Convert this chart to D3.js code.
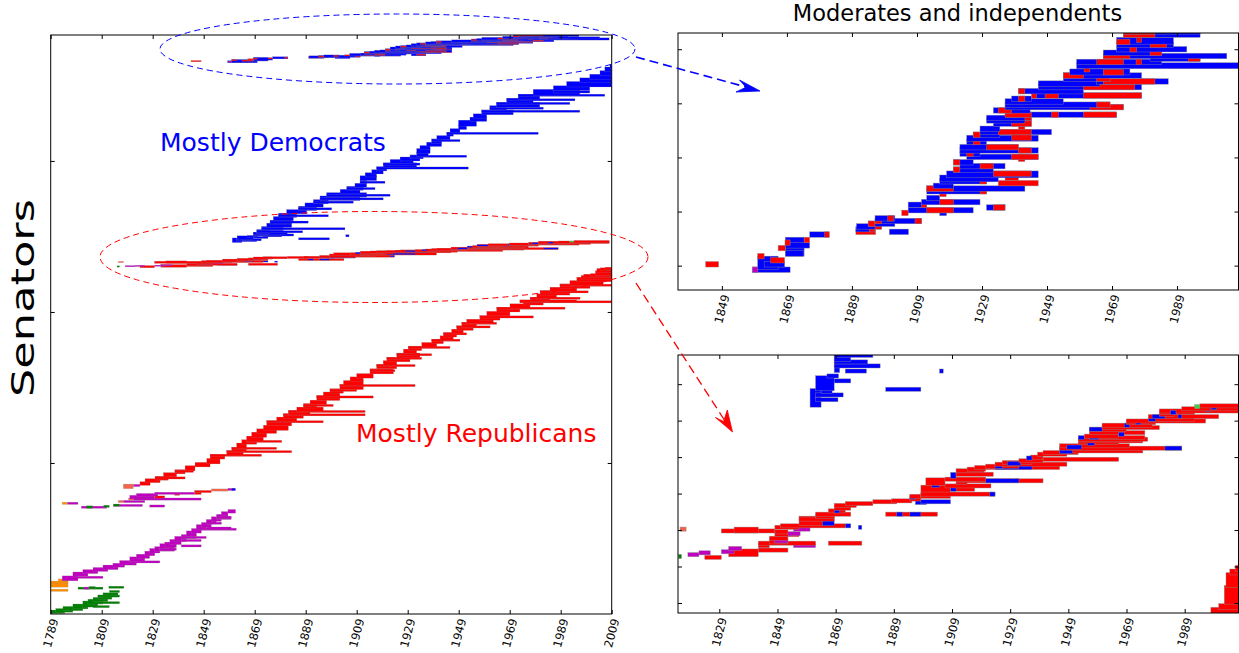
<!DOCTYPE html>
<html><head><meta charset="utf-8">
<script src="https://cdn.jsdelivr.net/npm/d3@7"></script>
<style>
body{margin:0;background:#fff}
svg{display:block}
text{font-family:"DejaVu Sans",sans-serif}
</style>
</head><body>
<svg id="c" width="1239" height="653"></svg>
<script>
// ---------- tick values ----------
const ticksMain = [1789,1809,1829,1849,1869,1889,1909,1929,1949,1969,1989,2009];
const ticksTop = [1849,1869,1889,1909,1929,1949,1969,1989];
const ticksBottom = [1829,1849,1869,1889,1909,1929,1949,1969,1989];
const rowTicksMain = [500,1000,1500];
const rowTicksTop = [1830,1850,1870,1890,1910];
const rowTicksBottom = [1125,1145,1165,1185,1205,1225,1245];

// ---------- senators: [row, rows, firstYear, lastYear, party] ----------
const earlyParties = [
 [5,5,1789.2,1794.5,"F"],[9,6,1791,1797.7,"F"],[14,8,1793.8,1801.6,"F"],[20,10,1797.7,1803.6,"F"],
 [26,14,1801.6,1807.5,"F"],[36,10,1803.6,1809.5,"F"],[44,8,1805.6,1811.4,"F"],[52,5,1807.5,1813,"F"],
 [24,1,1805.6,1812,"F"],[37,1,1807.5,1816,"F"],[59,1,1807.5,1816,"F"],[66,1,1809.5,1815.4,"F"],
 [74,1,1812,1816,"F"],[88,1,1811.8,1817.7,"F"],[85,1,1799.7,1809.5,"F"],[85,1,1802,1804,"M"],[86,2,1804,1806.5,"F"],
 [78,1,1789,1795.8,"O"],[92,8,1789,1795.8,"O"],[104,2,1789,1795.8,"O"],[110,3,1792,1795.8,"O"],
 [113,10,1793.5,1799.7,"M"],[121,1,1799.7,1809.5,"M"],[128,8,1797.7,1803.6,"M"],[137,7,1801.6,1807.5,"M"],
 [144,7,1805.6,1811.4,"M"],[150,9,1809.5,1815.4,"M"],[158,7,1813.4,1818,"M"],[165,9,1816,1822.6,"M"],
 [172,1,1820,1831.8,"M"],[177,9,1820,1825.9,"M"],[187,8,1822.6,1827.8,"M"],[196,9,1825.9,1829.8,"M"],
 [205,9,1827.8,1831.8,"M"],[211,9,1829.8,1837.6,"M"],[214,1,1831.8,1838.3,"M"],[219,11,1831.8,1835.7,"M"],
 [223,12,1833.7,1838.3,"M"],[225,1,1840.2,1848,"M"],[233,11,1835.7,1840.2,"M"],[243,11,1837.6,1842.2,"M"],
 [243,1,1840.2,1848,"M"],[253,7,1840.2,1846.1,"M"],[253,1,1840.2,1850,"M"],[261,11,1842.2,1846.1,"M"],
 [271,9,1844.2,1848.1,"M"],[282,11,1846.1,1850,"M"],[284,1,1850,1859.8,"M"],[280,1,1848,1861.8,"M"],
 [291,9,1848.1,1852,"M"],[301,9,1850,1854,"M"],[300,1,1850,1856,"M"],[310,9,1852,1855.9,"M"],
 [318,9,1854,1858.5,"M"],[316,1,1854,1859.8,"M"],[320,1,1855,1859.8,"M"],[329,7,1855.9,1858.5,"M"],
 [337,6,1858.5,1861.5,"M"],
 [366,1,1793.5,1795.6,"O"],[366,1,1795.6,1799.7,"M"],[353,1,1801,1811,"M"],[353,2,1803,1805.5,"F"],
 [356,1,1809.8,1812,"F"],[359,1,1813.6,1825,"M"],[360,1,1813.6,1816,"F"],[357,1,1827.8,1833.7,"M"],
 [372,1,1815.5,1817.6,"T"],[372,1,1817.6,1825.9,"M"],[380,1,1819.5,1821.5,"T"],[380,1,1821.5,1848,"M"],
 [384,6,1820,1829.8,"M"],[387,1,1829.8,1833.7,"R"],[393,3,1822.6,1831,"M"],[399,1,1829.8,1845.4,"M"],
 [399,1,1845.4,1848,"R"],[396,1,1837.6,1839.6,"R"],[405,1,1845.4,1852,"R"],[410,1,1852,1858.5,"T"],
 [412,1,1858.5,1861,"M"],[412,1,1860,1861.5,"D"],[425,1,1821.5,1824,"M"]
];

const republicans = [
 [418,9,1817.5,1821.4,"T"],[429,6,1824,1828,"R"],[438,7,1826,1831.9,"R"],[446,7,1829.9,1835.1,"R"],
 [450,1,1829.9,1841.7,"R"],[457,8,1833.2,1838.4,"R"],[467,8,1837.7,1841.7,"R"],[472,1,1837.7,1845,"R"],
 [477,11,1841.7,1845.6,"R"],[490,9,1845.6,1851.5,"R"],[500,12,1850.2,1855.4,"R"],[516,9,1851.5,1857.3,"R"],
 [525,1,1851.5,1871.7,"R"],[529,9,1858,1864.5,"R"],[537,1,1858,1883.5,"R"],[540,9,1860,1865.8,"R"],
 [548,1,1860,1877.6,"R"],[552,11,1861.9,1865.8,"R"],[565,9,1863.9,1869.8,"R"],[571,1,1865.8,1879.6,"R"],
 [575,11,1865.8,1872.4,"R"],[588,11,1867.8,1873.7,"R"],[601,9,1869.8,1877.6,"R"],[611,11,1872.4,1882.2,"R"],
 [626,11,1873.7,1883.5,"R"],[636,1,1873.7,1895.9,"R"],[640,9,1877.6,1885.5,"R"],[651,9,1880.2,1888.1,"R"],
 [659,1,1880.2,1912.3,"R"],[662,9,1882.2,1890.7,"R"],[670,1,1882.2,1912.3,"R"],[673,9,1885.5,1895.9,"R"],
 [685,9,1888.1,1893.3,"R"],[690,1,1888.1,1899.8,"R"],[696,9,1890.7,1897.2,"R"],[710,11,1893.3,1902.4,"R"],
 [718,1,1893.3,1915.5,"R"],[723,9,1895.9,1902.4,"R"],[734,9,1898.5,1903.8,"R"],[740,1,1898.5,1909,"R"],
 [746,11,1902.4,1911.6,"R"],[756,1,1902.4,1931.9,"R"],[761,9,1903.8,1911.6,"R"],[773,9,1906.4,1911.6,"R"],
 [784,9,1909,1915.5,"R"],[798,11,1914.2,1923.4,"R"],[805,1,1914.2,1924,"R"],[815,9,1916.8,1924.7,"R"],
 [822,1,1916.8,1931.9,"R"],[827,9,1919.4,1924.7,"R"],[838,9,1920.8,1929.9,"R"],[846,1,1920.8,1934.5,"R"],
 [851,10,1924.7,1933.8,"R"],[858,1,1924.7,1938.4,"R"],[865,9,1927.3,1932.5,"R"],[875,9,1929.2,1934.5,"R"],
 [882,1,1929.2,1945.6,"R"],[887,9,1934.5,1940.4,"R"],[898,9,1938.4,1943,"R"],[906,1,1938.4,1949.5,"R"],
 [909,9,1941.7,1946.9,"R"],[920,9,1943,1948.2,"R"],[927,1,1943,1952.1,"R"],[931,9,1946.2,1950.8,"R"],
 [942,9,1948.2,1954.7,"R"],[950,1,1948.2,1961.3,"R"],[953,9,1950.2,1956,"R"],[962,1,1950.2,1963.9,"R"],
 [964,9,1952.1,1962.6,"R"],[976,9,1957.3,1965.2,"R"],[983,1,1957.3,1978.3,"R"],[990,9,1960,1969.1,"R"],
 [1003,9,1963.9,1973,"R"],[1012,1,1963.9,1990.7,"R"],[1015,9,1969.1,1977,"R"],[1026,9,1974.3,1982.2,"R"],
 [1033,1,1973,2009,"R"],[1036,1,1973,1995.3,"R"],[1037,9,1977,1984.8,"R"],[1045,1,1977,1996.6,"R"],
 [1048,9,1979.6,1987.4,"R"],[1059,9,1980.9,1992.6,"R"],[1066,1,1980.9,1999.8,"R"],[1070,9,1984.8,1995.3,"R"],
 [1081,9,1988.7,2000.5,"R"],[1088,1,1988.7,2009,"R"],[1092,9,1992.6,2005.7,"R"],[1103,9,1995.3,2009,"R"],
 [1112,6,1997,2009,"R"],[1118,4,1998,2009,"R"],[1122,2,2000.7,2009,"R"],[1125,9,2002.6,2009,"R"],
 [1134,7,2003.2,2009,"R"],[1141,2,2004.5,2009,"R"],[1143,2,2006.4,2009,"R"]
];

const moderatesRight = [
 [1149.5,1,1824,1829.7,"R"],[1151,3,1832.2,1842.4,"R"],[1153.5,1,1842.4,1852.6,"R"],[1155.9,1,1842.4,1846.2,"R"],
 [1157.3,1,1842.4,1862.1,"R"],[1157.3,1,1866.5,1878,"R"],[1158,1,1846.2,1852.6,"R"],[1160,1,1846.2,1852.6,"R"],
 [1162,1,1848.1,1856.4,"R"],[1163.5,1,1848.1,1852.6,"R"],[1164,1,1829.7,1848.1,"R"],[1164,2,1834.1,1842.4,"R"],
 [1166,1,1848.1,1856.4,"R"],[1166.8,1,1850,1872.3,"R"],[1168,4,1856.4,1866.5,"R"],[1170.5,1,1856.4,1868.5,"R"],
 [1172,1,1862.1,1868.5,"R"],[1173.2,1,1862.1,1874.2,"R"],[1173.2,1,1886.2,1904,"R"],[1175,1,1866.5,1872.3,"R"],
 [1176.5,1,1868.5,1874.2,"R"],[1178,1,1868.5,1876.1,"R"],[1179,1,1872.3,1881.8,"R"],[1180,1,1881.8,1890,"R"],
 [1180.5,1,1888.2,1895.2,"R"],[1181.5,1,1894.5,1898.3,"R"],[1183,1,1894.5,1898.3,"R"],[1183,6,1898.3,1908.5,"R"],
 [1184.2,1,1898.3,1923.8,"R"],[1186.9,1,1908.5,1916.8,"R"],[1188.7,1,1906.6,1922.4,"R"],[1190,3,1900,1906.6,"R"],
 [1190.6,1,1910.4,1914.2,"R"],[1191.5,1,1910.4,1940.3,"R"],[1192.4,1,1906.6,1920.6,"R"],[1195.1,1,1910.4,1923.2,"R"],
 [1197,1,1910.4,1920,"R"],[1197.9,1,1914.2,1920.6,"R"],[1198.8,1,1916.8,1946,"R"],[1199.5,1,1920.6,1932,"R"],
 [1200.6,1,1923.8,1948.5,"R"],[1201.5,1,1926.3,1936.5,"R"],[1202.5,1,1932,1940.3,"R"],[1203.3,1,1940.3,1966.3,"R"],
 [1204.5,1,1936,1940.3,"R"],[1206.1,1,1938.4,1948.5,"R"],[1207,1,1940.3,1952.4,"R"],[1207.9,1,1946,1974.6,"R"],
 [1209.4,1,1946,1988,"R"],[1210.7,1,1946,1970,"R"],[1212.5,1,1952.4,1966.3,"R"],[1213.4,1,1952.4,1974.6,"R"],
 [1214.3,1,1952.4,1976.3,"R"],[1215.2,1,1956.2,1975.3,"R"],[1216,1,1954.5,1966.3,"R"],[1217.9,1,1956.2,1975.3,"R"],
 [1219.8,1,1956.2,1968.9,"R"],[1220.7,1,1960.6,1980.3,"R"],[1222,1,1960.6,1977.8,"R"],[1223.4,1,1968.9,1979,"R"],
 [1224.3,1,1968.9,1996.2,"R"],[1225.3,1,1976.5,1992.4,"R"],[1226.7,1,1976.5,2000.7,"R"],[1228,1,1980.3,1985.5,"R"],
 [1228.9,1,1980.3,1992.4,"R"],[1229.8,1,1980.3,2008,"R"],[1231,1,1988,2008,"R"],[1232.6,1,1994.2,2008,"R"]
];
const moderatesRightOther = [
 [1150,1,1815,1816,"F"],[1165,1,1815.5,1817.6,"T"],[1151,1,1818.2,1822,"M"],[1152,1,1822,1825.9,"M"],
 [1152.6,1,1829.7,1834.1,"M"],[1154.4,1,1832.2,1836.7,"M"],[1156,1,1854.5,1862.1,"M"],[1158.5,1,1848.1,1852.6,"M"],
 [1162.5,1,1852.6,1856.8,"M"],[1165,1,1854.5,1860.2,"M"],[1166.8,1,1872.3,1874.2,"D"],[1166,1,1876.8,1878,"D"],
 [1168,5,1864.5,1868.5,"D"],[1175,1,1868.5,1870.4,"D"],[1173.2,1,1890,1892,"D"],[1173.2,1,1894.5,1898.3,"D"],
 [1182.5,1,1894.5,1896.4,"D"],[1179.6,1,1896.4,1900.2,"D"],[1180,1,1898.3,1908.5,"D"],[1184.2,1,1922,1923.8,"D"],
 [1189,1,1902,1904.7,"D"],[1186.9,1,1908.5,1910.4,"D"],[1191.5,1,1920.6,1932,"D"],[1194,2,1908.5,1910.4,"D"],
 [1198.8,1,1923.8,1936.5,"D"],[1199.5,1,1923.8,1926.3,"D"],[1201,1,1928,1932.6,"D"],[1204,1,1934.6,1936.5,"D"],
 [1207.5,2,1946,1950.5,"D"],[1209.4,1,1982.2,1988,"D"],[1210,1,1948.5,1953.6,"D"],[1212,1,1955.5,1958,"D"],
 [1215.2,1,1952.4,1954.5,"D"],[1215.2,1,1956.2,1959.4,"D"],[1217,1,1966.3,1968.2,"D"],[1219.8,1,1956.2,1960.6,"D"],
 [1222,1,1968.2,1970.1,"D"],[1223.5,1,1972.1,1974,"D"],[1225.3,1,1976.5,1979,"D"],[1226.7,1,1977.8,1982.2,"D"],
 [1229,1,1984.1,1986,"D"],[1227,1,1986.7,1988,"D"],[1230.7,1,1996.2,1998.1,"D"],[1231.6,1,1998.1,2000,"D"],
 [1232.2,1,1992.4,1994.2,"G"]
];

const democrats = [
 [1233,9,1860.2,1864,"D"],[1236,1,1862,1869.8,"D"],[1238.6,1,1862,1871.6,"D"],[1240.5,1,1864,1867.8,"D"],
 [1241.7,1,1886.2,1898.3,"D"],[1242,7,1862.1,1868.5,"D"],[1246.3,1,1868.5,1874.2,"D"],[1249,1,1866,1870,"D"],
 [1251.7,1,1872.3,1879.6,"D"],[1251.7,1,1904.7,1906,"D"],[1252,9,1868.5,1870.4,"D"],[1254.5,1,1868.5,1884.3,"D"],
 [1256.7,1,1868.5,1880,"D"],[1258,2,1868.5,1874.2,"D"],[1260.3,1,1868.5,1881.8,"D"],
 [1262,8,1869.8,1875,"D"],[1265,1,1869.8,1887.8,"D"],[1272,8,1871.7,1880.2,"D"],[1275,1,1871.7,1904.4,"D"],
 [1283,8,1873.7,1883.5,"D"],[1294,7,1875,1883.5,"D"],[1297,1,1875,1890,"D"],[1305,8,1876.3,1884.2,"D"],
 [1316,8,1878.3,1885.5,"D"],[1318,1,1878.3,1897.9,"D"],[1328,8,1881.5,1889.4,"D"],[1339,8,1886.1,1893.3,"D"],
 [1341,1,1886.1,1899.2,"D"],[1350,8,1888.7,1895.9,"D"],[1361,8,1892,1897.9,"D"],[1363,1,1892,1907.7,"D"],
 [1372,9,1894.6,1910.3,"D"],[1374,1,1894.6,1919.4,"D"],[1383,9,1897.2,1912.9,"D"],[1386,1,1897.2,1922.1,"D"],
 [1395,8,1902.5,1910.3,"D"],[1406,7,1905.1,1911.6,"D"],[1408,1,1905.1,1916.2,"D"],[1416,7,1908.3,1912.9,"D"],
 [1427,6,1910.3,1912.9,"D"],[1429,1,1910.3,1920.1,"D"],[1438,10,1910.3,1916.8,"D"],[1450,8,1912.3,1916.8,"D"],
 [1460,8,1914.9,1919.4,"D"],[1470,8,1916.8,1920.8,"D"],[1476,1,1916.8,1952.8,"D"],[1481,10,1919.4,1932.5,"D"],
 [1489,1,1919.4,1933.8,"D"],[1495,7,1922.1,1931.2,"D"],[1503,7,1926,1933.8,"D"],[1510,7,1929.9,1935.1,"D"],
 [1515,1,1929.9,1952.1,"D"],[1519,7,1932.5,1937.1,"D"],[1528,10,1932.5,1937.8,"D"],[1540,8,1933.8,1937.8,"D"],
 [1551,8,1936.4,1942.3,"D"],[1562,8,1938.4,1942.3,"D"],[1567,1,1938.4,1949.5,"D"],[1573,8,1940.4,1945.6,"D"],
 [1585,7,1944.3,1946.9,"D"],[1591,1,1944.3,1980.2,"D"],[1596,8,1945.6,1949.5,"D"],[1607,8,1948.9,1952.1,"D"],
 [1618,14,1948.9,1956,"D"],[1634,8,1953.4,1960,"D"],[1645,8,1954.7,1960,"D"],[1656,10,1958,1970.4,"D"],
 [1664,1,1958,1996.5,"D"],[1670,10,1961.2,1967.8,"D"],[1674,1,1961.2,1982.2,"D"],[1681,10,1963.8,1980.8,"D"],
 [1690,1,1963.8,1992.6,"D"],[1695,10,1967.8,1978.2,"D"],[1702,1,1967.8,1994.6,"D"],[1708,10,1972.3,1980.8,"D"],
 [1717,1,1972.3,2006.3,"D"],[1720,14,1978.2,1996.5,"D"],[1728,1,1986.1,2000.4,"D"],[1736,10,1986.1,2000.4,"D"],
 [1748,12,1991.3,2009,"D"],[1762,10,1996.5,2009,"D"],[1774,10,2000.4,2009,"D"],[1786,10,2004.4,2009,"D"],
 [1798,10,2006.3,2009,"D"],[1810,6,2008.3,2009,"D"]
];

const moderatesLeft = [
 [1828,1,1858.4,1870,"D"],[1829,4,1860,1866.3,"D"],[1830,1,1862,1868.3,"D"],[1834,6,1868.5,1874.3,"D"],
 [1834,1,1868.6,1874,"D"],[1837,1,1868.6,1876,"D"],[1841,1,1876,1882,"D"],[1842,1,1900.5,1906.4,"D"],
 [1843,1,1890.2,1896.1,"D"],[1844,1,1890.4,1898.1,"D"],[1845,1,1894,1902.2,"D"],[1846,1,1896.1,1910.4,"D"],
 [1847,1,1896.1,1902.2,"D"],[1849,1,1916,1918.1,"D"],[1850,1,1906.3,1926.3,"D"],[1851,1,1930.4,1936.1,"D"],
 [1852,1,1906.3,1912,"D"],[1853,1,1910.4,1928.4,"D"],[1854.5,1,1912,1916,"D"],[1857,1,1912,1930.4,"D"],
 [1858,1,1912,1942.2,"D"],[1859,1,1914,1920.2,"D"],[1860.7,1,1916,1930.4,"D"],[1861.5,1.5,1916,1934,"D"],
 [1863,1.5,1918.1,1946.3,"D"],[1865,1,1920.2,1932.5,"D"],[1866.3,1,1922.2,1936.1,"D"],[1867.7,1,1920.2,1926.3,"D"],
 [1869.7,1,1924.3,1946.3,"D"],[1870.9,1,1922.2,1928.4,"D"],[1872.1,1,1922.2,1946.3,"D"],[1873.3,1,1922.2,1940.2,"D"],
 [1875.2,1,1924.3,1930.4,"D"],[1876.5,1.2,1924.3,1946.3,"D"],[1877.9,1,1926.3,1934.5,"D"],[1878.9,1,1928.4,1950.4,"D"],
 [1880.1,1,1928.4,1934.5,"D"],[1882,1,1932.5,1944.2,"D"],[1883.2,1,1930.4,1942.2,"D"],[1884.1,1,1930.4,1944.2,"D"],
 [1885.3,1,1936.1,1970.4,"D"],[1886.9,1,1932.5,1943.8,"D"],[1888.1,1,1936.1,1972.5,"D"],[1889,1,1936.1,1968.4,"D"],
 [1890.2,1,1936.1,1954,"D"],[1891.2,1,1938.1,1944.3,"D"],[1892.4,1,1944.3,1978.1,"D"],[1894,1,1940.2,1960.2,"D"],
 [1895.5,1.2,1946.3,1978.1,"D"],[1896.8,1,1946.3,1965.3,"D"],[1897.6,1,1964.3,1986.3,"D"],[1898.6,1,1954,1968.4,"D"],
 [1899.8,1,1954,1978.1,"D"],[1901,1.2,1956,1974.5,"D"],[1903.3,1.2,1958.1,2008,"D"],[1904.8,1,1958.1,1984.3,"D"],
 [1906,1,1980.7,1996.1,"D"],[1907,1,1966.3,2004.3,"D"],[1908.2,1,1966.3,1984.3,"D"],[1909.5,1,1970.4,1992,"D"],
 [1911.2,1,1970.4,1987.9,"D"],[1912.4,1.5,1970.4,1987.9,"D"],[1914.9,1,1972.5,1996.1,"D"],[1916.1,1,1972.5,1996.1,"D"]
];
const moderatesLeftOther = [
 [1828,1,1858.4,1860.1,"M"],[1830,1,1844,1848,"R"],[1833,1,1860,1862,"R"],[1831.5,1,1864,1868.3,"R"],
 [1836,1,1866.3,1868.5,"R"],[1838,1,1868.4,1870,"R"],[1839,1,1874.3,1876,"R"],[1841,1,1880.6,1882,"R"],
 [1842,1,1890.2,1896.3,"R"],[1843,1,1894.3,1896.1,"R"],[1844,1,1896.1,1898.1,"R"],[1845,1,1894,1896.1,"R"],
 [1846,1,1896.1,1898.1,"R"],[1846,1,1908.4,1910.4,"R"],[1847,1,1900,1901.8,"R"],[1849,1,1904.3,1906.3,"R"],
 [1850,1,1912,1920.2,"R"],[1851,1,1932.5,1936.1,"R"],[1852,1,1910.4,1912,"R"],[1853,1,1916,1920.2,"R"],
 [1856,1,1916,1918,"R"],[1857,1,1928.4,1930.4,"R"],[1858,1,1912,1920.2,"R"],[1860,1,1934,1946.3,"R"],
 [1860.7,1,1928.4,1930.4,"R"],[1862,1,1936.1,1940.2,"R"],[1863.5,1,1932.5,1944.2,"R"],[1865,1,1920.2,1922.2,"R"],
 [1866.3,1,1928.4,1932.5,"R"],[1867.7,1,1920.2,1922.2,"R"],[1869,1,1940.2,1942.2,"R"],[1869.7,1,1938.1,1946.3,"R"],
 [1870.9,1,1924.3,1926.3,"R"],[1872.1,1,1940.2,1944.2,"R"],[1873.3,1,1930.4,1940.2,"R"],[1875.2,1,1926.3,1928.4,"R"],
 [1876.8,1,1938.1,1944.2,"R"],[1877.9,1,1926.3,1928.4,"R"],[1878.9,1,1934,1944.2,"R"],[1880.8,1,1940.2,1942.2,"R"],
 [1882,1,1938.1,1944.2,"R"],[1884.1,1,1942.2,1944.2,"R"],[1885.3,1,1936.1,1944.2,"R"],[1885.3,1,1950.4,1952.5,"R"],
 [1885.3,1,1960.2,1970.4,"R"],[1886.9,1,1934,1938.1,"R"],[1888.1,1,1962.2,1972.5,"R"],[1889,1,1964.3,1968.4,"R"],
 [1891.2,1,1940.2,1942.2,"R"],[1892.4,1,1944.3,1945.8,"R"],[1892.4,1,1948.4,1952.5,"R"],[1892.4,1,1960.2,1978.1,"R"],
 [1894,1,1940.2,1942.2,"R"],[1895.5,1,1960.2,1976,"R"],[1897.6,1,1966.3,1982.2,"R"],[1898.6,1,1964.3,1968.4,"R"],
 [1899.8,1,1954,1960.2,"R"],[1901,1,1966.3,1972.5,"R"],[1902.1,1,1960.4,1962.2,"R"],[1904.8,1,1964.3,1972.5,"R"],
 [1904.8,1,1976.4,1978.1,"R"],[1906,1,1992.5,1996.1,"R"],[1907,1,1966.3,1974.5,"R"],[1908.2,1,1980.7,1984.3,"R"],
 [1909.5,1,1974.5,1976.6,"R"],[1911.2,1,1980.7,1985.8,"R"],[1912.2,1,1970.4,1974.5,"R"],[1913,1,1976.6,1978.1,"R"],
 [1914.9,1,1972.5,1982.2,"R"],[1916.1,1,1972.5,1982.2,"R"]
];

// ---------- drawing ----------
const partyColor = {D:"#0000ff", R:"#ff0000", M:"#bf00bf", F:"#008000", O:"#ff8c00", T:"#f4644c", G:"#44cc44"};
// every senator drawn in row order (later rows over earlier ones); party-change segments over their own row
const groups = [[earlyParties,0],[republicans,0],[moderatesRight,0],[moderatesRightOther,1],
                [democrats,0],[moderatesLeft,0],[moderatesLeftOther,1]];
const bars = [];
groups.forEach(([arr, ov]) => arr.forEach(d => bars.push({d, ov, k: bars.length})));
bars.sort((a,b) => (Math.floor(a.d[0]) - Math.floor(b.d[0])) || (a.ov - b.ov) || (a.k - b.k));

const svg = d3.select("#c");
const panels = [
  {id:"main", left:50.7, right:611.7, top:35, bottom:614, years:[1789,2009], rows:[0,1917],
   xt:ticksMain, yt:rowTicksMain, pad:1.9, ovPad:1.0, sw:0.25},
  {id:"top", left:678, right:1238.5, top:33, bottom:290, years:[1835.5,2007.9], rows:[1821,1916],
   xt:ticksTop, yt:rowTicksTop, pad:2.8, ovPad:2.8, sw:0.5},
  {id:"bot", left:678, right:1238.5, top:355, bottom:613, years:[1814.8,2007.5], rows:[1119.5,1261],
   xt:ticksBottom, yt:rowTicksBottom, pad:2.3, ovPad:2.3, sw:0.5}
];

const defs = svg.append("defs");
panels.forEach(p => {
  const x = d3.scaleLinear().domain(p.years).range([p.left, p.right]);
  const y = d3.scaleLinear().domain(p.rows).range([p.bottom, p.top]);
  const padOf = b => b.ov ? p.ovPad : p.pad;
  defs.append("clipPath").attr("id","clip-"+p.id).append("rect")
    .attr("x",p.left).attr("y",p.top).attr("width",p.right-p.left).attr("height",p.bottom-p.top);
  const g = svg.append("g").attr("clip-path","url(#clip-"+p.id+")");
  g.selectAll("rect").data(bars).join("rect")
    .attr("x", b => x(b.d[2]))
    .attr("width", b => Math.max(0.6, x(b.d[3]) - x(b.d[2])))
    .attr("y", b => y(b.d[0]+b.d[1]) - padOf(b)/2)
    .attr("height", b => (y(b.d[0]) - y(b.d[0]+b.d[1])) + padOf(b))
    .attr("fill", b => partyColor[b.d[4]])
    .attr("stroke", "#8c8c8c").attr("stroke-width", p.sw).attr("stroke-opacity", 0.8);

  // axes (ticks inward, no labels)
  const ax = svg.append("g").attr("class","axes");
  const tick = s => s.call(gg => gg.select(".domain").remove()).call(gg => gg.selectAll("line").attr("stroke","#000"));
  ax.append("g").attr("transform",`translate(0,${p.bottom})`)
    .call(d3.axisBottom(x).tickValues(p.xt).tickSize(-4).tickFormat("")).call(tick);
  ax.append("g").attr("transform",`translate(0,${p.top})`)
    .call(d3.axisTop(x).tickValues(p.xt).tickSize(-4).tickFormat("")).call(tick);
  ax.append("g").attr("transform",`translate(${p.left},0)`)
    .call(d3.axisLeft(y).tickValues(p.yt).tickSize(-4).tickFormat("")).call(tick);
  ax.append("g").attr("transform",`translate(${p.right},0)`)
    .call(d3.axisRight(y).tickValues(p.yt).tickSize(-4).tickFormat("")).call(tick);
  ax.append("rect").attr("x",p.left).attr("y",p.top).attr("width",p.right-p.left).attr("height",p.bottom-p.top)
    .attr("fill","none").attr("stroke","#000").attr("stroke-width",1);
  ax.selectAll("text.lbl").data(p.xt).join("text").attr("class","lbl")
    .attr("transform", d => `translate(${x(d)},${p.bottom+19}) rotate(-75)`)
    .attr("text-anchor","middle").attr("dy","0.35em")
    .attr("font-size",11.5).attr("fill","#000").text(d => d);
});

// ---------- annotations ----------
svg.append("text").attr("transform","translate(34,298) rotate(-90)")
  .attr("text-anchor","middle").attr("font-size",32).attr("fill","#000")
  .attr("textLength",198).attr("lengthAdjust","spacingAndGlyphs").text("Senators");

svg.append("text").attr("x",957.5).attr("y",21).attr("text-anchor","middle")
  .attr("font-size",22.5).attr("fill","#000").text("Moderates and independents");

svg.append("text").attr("x",160).attr("y",151).attr("font-size",25).attr("fill","#0000ff").text("Mostly Democrats");
svg.append("text").attr("x",356).attr("y",442).attr("font-size",25).attr("fill","#ff0000").text("Mostly Republicans");

svg.append("ellipse").attr("cx",397.5).attr("cy",49).attr("rx",237.5).attr("ry",35)
  .attr("fill","none").attr("stroke","#0000ff").attr("stroke-width",1).attr("stroke-dasharray","6,4");
svg.append("ellipse").attr("cx",374).attr("cy",257).attr("rx",274).attr("ry",45.5)
  .attr("fill","none").attr("stroke","#ff0000").attr("stroke-width",1).attr("stroke-dasharray","6,4");

svg.append("line").attr("x1",636).attr("y1",57).attr("x2",748).attr("y2",87.5)
  .attr("stroke","#0000ff").attr("stroke-width",1.6).attr("stroke-dasharray","9,5");
svg.append("path").attr("d","M760,91 L739.5,80 L746,87.3 L736,92 Z").attr("fill","#0000ff").attr("stroke","#0000ff").attr("stroke-width",0.8);

svg.append("line").attr("x1",636).attr("y1",283).attr("x2",725).attr("y2",421)
  .attr("stroke","#ff0000").attr("stroke-width",1.3).attr("stroke-dasharray","9,5");
svg.append("path").attr("d","M732.5,432 L715.5,417.5 L723.6,421.5 L727.3,410 Z").attr("fill","#ff0000").attr("stroke","#ff0000").attr("stroke-width",0.8);
</script>
</body></html>
